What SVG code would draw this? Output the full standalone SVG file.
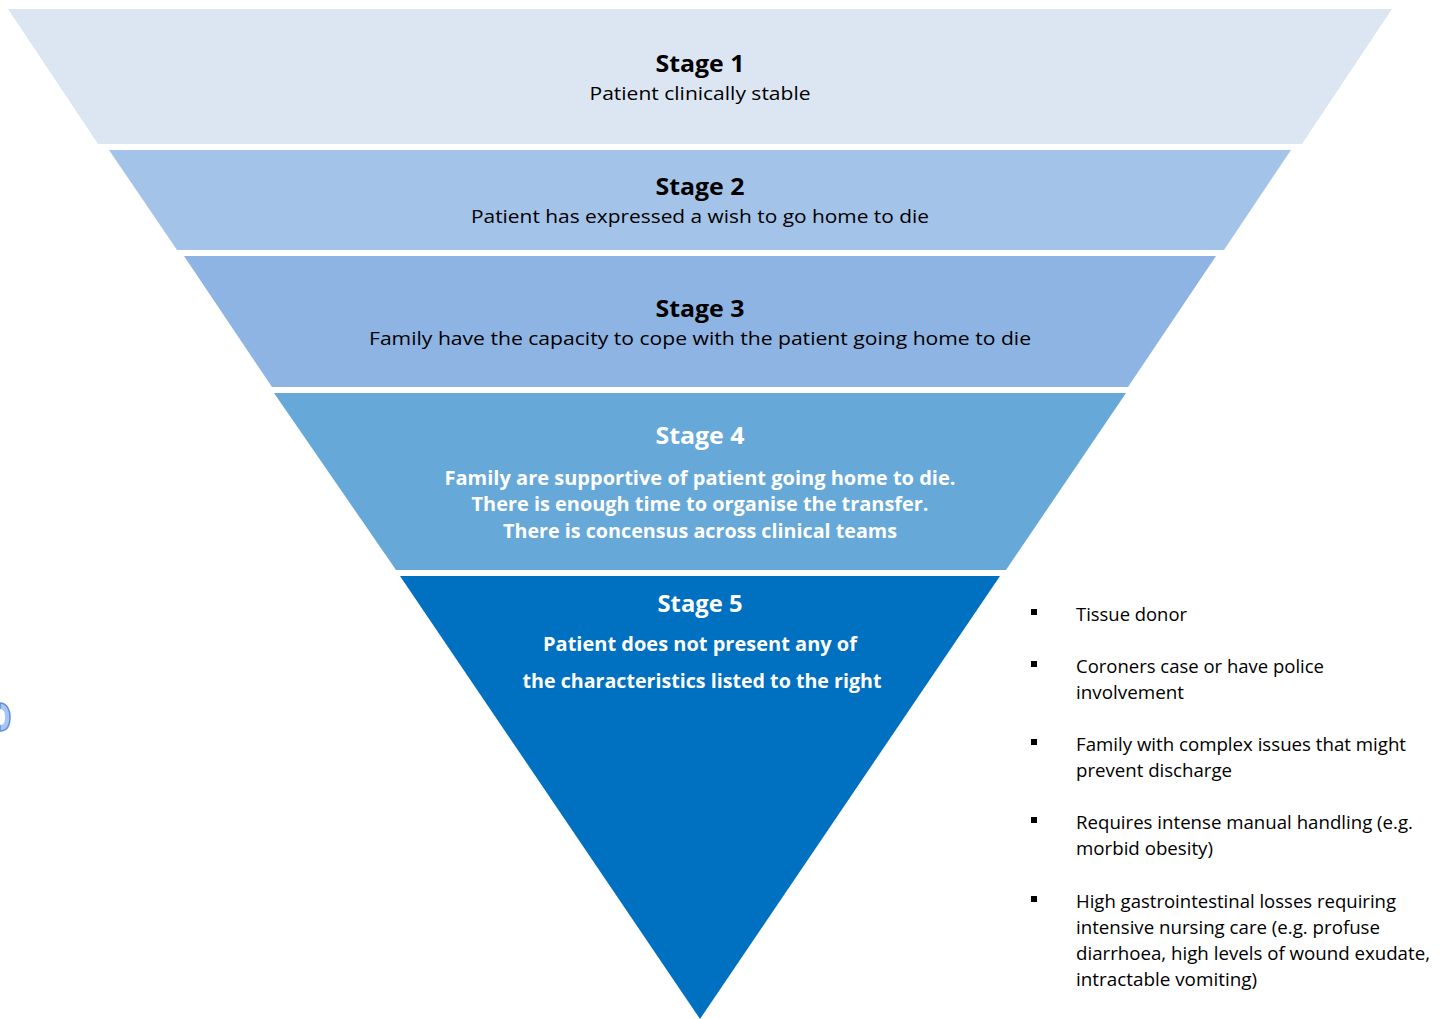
<svg xmlns="http://www.w3.org/2000/svg" width="1445" height="1019" viewBox="0 0 1445 1019">
  <style>
    .title { font-family: "Open Sans", "Noto Sans", sans-serif; font-weight: bold; font-size: 24px; text-anchor: middle; }
    .body { font-family: "Open Sans", "Noto Sans", sans-serif; font-size: 19px; text-anchor: middle; }
    .bodyb { font-family: "Open Sans", "Noto Sans", sans-serif; font-weight: bold; font-size: 19px; text-anchor: middle; fill: #ffffff; }
    .dark { fill: #000000; }
    .light { fill: #ffffff; }
    .item { font-family: "Open Sans", "Noto Sans", sans-serif; font-size: 18px; fill: #000000; }
    .bullet { fill: #000000; }
  </style>
  <rect width="1445" height="1019" fill="#ffffff"/>

  <!-- small edge mark on the left -->
  <path d="M0,703 C7,703 10,710 10,717 C10,725 7,731 0,731 Z" fill="#a9c6f2" stroke="#5f8fdc" stroke-width="1.5"/>
  <path d="M0,709 C4,709 5,713 5,717 C5,722 4,725 0,725 Z" fill="#ffffff"/>

  <!-- Stage 1 -->
  <g id="stage1">
    <polygon points="8,9 1392,9 1302,144 98,144" fill="#dce6f2"/>
    <text class="title dark" x="700" y="72" textLength="89" lengthAdjust="spacingAndGlyphs">Stage 1</text>
    <text class="body dark" x="700" y="100" textLength="221" lengthAdjust="spacingAndGlyphs">Patient clinically stable</text>
  </g>

  <!-- Stage 2 -->
  <g id="stage2">
    <polygon points="109,150 1291,150 1224,250 177,250" fill="#a4c3e8"/>
    <text class="title dark" x="700" y="195" textLength="89" lengthAdjust="spacingAndGlyphs">Stage 2</text>
    <text class="body dark" x="700" y="223" textLength="458" lengthAdjust="spacingAndGlyphs">Patient has expressed a wish to go home to die</text>
  </g>

  <!-- Stage 3 -->
  <g id="stage3">
    <polygon points="184,256 1216,256 1128,387 272,387" fill="#8eb4e3"/>
    <text class="title dark" x="700" y="317" textLength="89" lengthAdjust="spacingAndGlyphs">Stage 3</text>
    <text class="body dark" x="700" y="345" textLength="662" lengthAdjust="spacingAndGlyphs">Family have the capacity to cope with the patient going home to die</text>
  </g>

  <!-- Stage 4 -->
  <g id="stage4">
    <polygon points="274,393 1126,393 1006,570 396,570" fill="#66a8d8"/>
    <text class="title light" x="700" y="444" textLength="89" lengthAdjust="spacingAndGlyphs">Stage 4</text>
    <text class="bodyb" x="700" y="485" textLength="511" lengthAdjust="spacingAndGlyphs">Family are supportive of patient going home to die.</text>
    <text class="bodyb" x="700" y="511" textLength="457" lengthAdjust="spacingAndGlyphs">There is enough time to organise the transfer.</text>
    <text class="bodyb" x="700" y="538" textLength="394" lengthAdjust="spacingAndGlyphs">There is concensus across clinical teams</text>
  </g>

  <!-- Stage 5 -->
  <g id="stage5">
    <polygon points="400,576 1000,576 700,1019" fill="#0070c0"/>
    <text class="title light" x="700" y="612" textLength="85" lengthAdjust="spacingAndGlyphs">Stage 5</text>
    <text class="bodyb" x="700" y="651" textLength="314" lengthAdjust="spacingAndGlyphs">Patient does not present any of</text>
    <text class="bodyb" x="702" y="688" textLength="359" lengthAdjust="spacingAndGlyphs">the characteristics listed to the right</text>
  </g>

  <!-- Exclusion characteristics list -->
  <g id="criteria">
    <rect class="bullet" x="1031" y="609" width="6" height="6"/>
    <text class="item" x="1076" y="621" textLength="111" lengthAdjust="spacingAndGlyphs">Tissue donor</text>

    <rect class="bullet" x="1031" y="661" width="6" height="6"/>
    <text class="item" x="1076" y="673" textLength="248" lengthAdjust="spacingAndGlyphs">Coroners case or have police</text>
    <text class="item" x="1076" y="699" textLength="108" lengthAdjust="spacingAndGlyphs">involvement</text>

    <rect class="bullet" x="1031" y="739" width="6" height="6"/>
    <text class="item" x="1076" y="751" textLength="330" lengthAdjust="spacingAndGlyphs">Family with complex issues that might</text>
    <text class="item" x="1076" y="777" textLength="156" lengthAdjust="spacingAndGlyphs">prevent discharge</text>

    <rect class="bullet" x="1031" y="817" width="6" height="6"/>
    <text class="item" x="1076" y="829" textLength="337" lengthAdjust="spacingAndGlyphs">Requires intense manual handling (e.g.</text>
    <text class="item" x="1076" y="855" textLength="137" lengthAdjust="spacingAndGlyphs">morbid obesity)</text>

    <rect class="bullet" x="1031" y="896" width="6" height="6"/>
    <text class="item" x="1076" y="908" textLength="320" lengthAdjust="spacingAndGlyphs">High gastrointestinal losses requiring</text>
    <text class="item" x="1076" y="934" textLength="304" lengthAdjust="spacingAndGlyphs">intensive nursing care (e.g. profuse</text>
    <text class="item" x="1076" y="960" textLength="354" lengthAdjust="spacingAndGlyphs">diarrhoea, high levels of wound exudate,</text>
    <text class="item" x="1076" y="986" textLength="181" lengthAdjust="spacingAndGlyphs">intractable vomiting)</text>
  </g>
</svg>
